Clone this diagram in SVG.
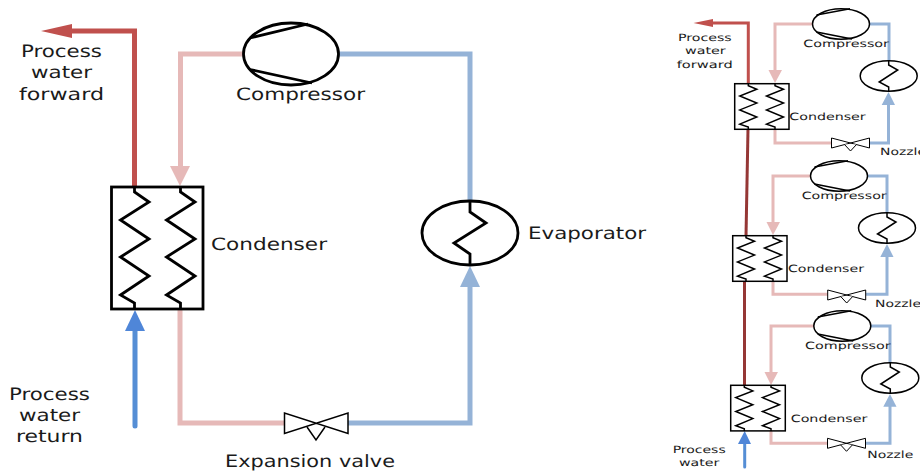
<svg xmlns="http://www.w3.org/2000/svg" width="920" height="473" viewBox="0 0 920 473">
<style>
text{font-family:"DejaVu Sans","Open Sans",sans-serif;fill:#1a1a1a;text-rendering:geometricPrecision}
.big{font-size:17px}
.small{font-size:10px}
.sym{fill:none;stroke:#000;stroke-linejoin:miter}
.b{stroke-width:2.800}
.s{stroke-width:1.500}
.v{fill:#fff;stroke:#000;stroke-width:1.500}
.vs{fill:#fff;stroke:#000;stroke-width:1}
.pipe{fill:none;stroke-linejoin:miter}
.w5{stroke-width:5}
.w3{stroke-width:3}
.red{stroke:#c0504d}
.dark{stroke:#953735}
.pink{stroke:#e6b9b8}
.blue{stroke:#95b3d7}
.water{stroke:#558ed5;stroke-linecap:round}
.fred{fill:#c0504d}
.fpink{fill:#e6b9b8}
.fblue{fill:#95b3d7}
.fwater{fill:#4f86d8}
</style>
<defs>
<path id="bigCoil" d="M0,0V5L14.500,15L-14,33L14.500,52L-14,70L14.500,89L-14,108L0,116V122"/>
<path id="smallCoil" d="M0,0V2L8.500,5.600L-8.500,12.300L8.500,19.400L-8.500,26.200L8.500,33.300L-8.500,40.400L0,43.400V45.600"/>
<g id="smallComp" class="sym s"><ellipse cx="0" cy="0" rx="28.500" ry="15.200"/><path d="M-24.500,-9L9,-15.200M-24.500,8L11,15"/></g>
<g id="smallEvap" class="sym s"><ellipse cx="0" cy="0" rx="28.500" ry="15.200"/><path d="M0,-15.200V-11L9,-6L-9.500,6L0,11V15.200"/></g>
<g id="smallValve" class="vs"><path d="M-19,-5V5L19,-5V5Z"/><path d="M-6,1.500L0,8L6,1.500"/></g>
</defs>

<g id="connectors">
<path class="pipe w5 red" d="M72,31H134.500V187"/>
<path class="fred" d="M41,31L72,24V38Z"/>
<path class="pipe w5 pink" d="M243,54H180.500V166"/>
<path class="fpink" d="M170,166H190L180,186Z"/>
<path class="pipe w5 blue" d="M339,54H470V201"/>
<path class="pipe w5 blue" d="M470,286V423H346"/>
<path class="fblue" d="M470,266L480,287H460Z"/>
<path class="pipe w5 pink" d="M180,309V423H286"/>
<path class="pipe w5 water" d="M135,329V426"/>
<path class="fwater" d="M135,310L145,331H125Z"/>

<path class="pipe w3 red" d="M713,23H748.300V84"/>
<path class="fred" d="M693.500,23L713,19V27Z"/>
<path class="pipe w3 pink" d="M812,24H775V71"/>
<path class="fpink" d="M768.500,70H782L775,83Z"/>
<path class="pipe w3 blue" d="M869,24H889V61"/>
<path class="pipe w3 blue" d="M888.500,104V143H869"/>
<path class="fblue" d="M888.500,92L895,105H881.700Z"/>
<path class="pipe w3 pink" d="M775,129V143H832"/>
<path class="pipe w3 dark" d="M748,129L746,236"/>

<path class="pipe w3 pink" d="M810,176H773V223"/>
<path class="fpink" d="M766.500,222H780L773,235Z"/>
<path class="pipe w3 blue" d="M867,176H887V213"/>
<path class="pipe w3 blue" d="M887,256V294.300H866"/>
<path class="fblue" d="M887,244L893.500,257H880.300Z"/>
<path class="pipe w3 pink" d="M773,281V294.300H828"/>
<path class="pipe w3 dark" d="M744.500,281V385"/>

<path class="pipe w3 pink" d="M814,326H771V373"/>
<path class="fpink" d="M764.500,372H778L771,385Z"/>
<path class="pipe w3 blue" d="M871,326H890V363"/>
<path class="pipe w3 blue" d="M890,406V443.300H866"/>
<path class="fblue" d="M890,394L896.500,406.700H883.300Z"/>
<path class="pipe w3 pink" d="M771,431V443.300H828"/>
<path class="pipe w3 water" d="M744.700,443V467"/>
<path class="fwater" d="M744.700,431L751,444H738Z"/>
</g>

<g id="compressor-main">
<g class="sym b"><ellipse cx="291" cy="54" rx="47.500" ry="31"/><path d="M250,38L308,24M250,69.500L312,83"/></g>
<text class="big" x="236" y="100" textLength="129" lengthAdjust="spacingAndGlyphs">Compressor</text>
</g>
<g id="evaporator-main">
<g class="sym b"><ellipse cx="470" cy="233" rx="48" ry="32"/><path d="M470,201V212L486,223L454,243L470,254V265"/></g>
<text class="big" x="528" y="239" textLength="118" lengthAdjust="spacingAndGlyphs">Evaporator</text>
</g>
<g id="condenser-main">
<rect class="sym b" x="111.500" y="187" width="91.500" height="122"/>
<use href="#bigCoil" class="sym b" x="134.500" y="187"/>
<use href="#bigCoil" class="sym b" x="180.500" y="187"/>
<text class="big" x="211" y="250" textLength="116" lengthAdjust="spacingAndGlyphs">Condenser</text>
</g>
<g id="valve-main">
<path class="v" d="M284.500,413V433.500L348,413V433.500Z"/>
<path class="v" d="M307,427L316,440L325,427"/>
<text class="big" x="225" y="467" textLength="170" lengthAdjust="spacingAndGlyphs">Expansion valve</text>
</g>
<g id="water-forward-label">
<text class="big" x="21" y="57" textLength="81" lengthAdjust="spacingAndGlyphs">Process</text>
<text class="big" x="31" y="78" textLength="61" lengthAdjust="spacingAndGlyphs">water</text>
<text class="big" x="19" y="100" textLength="85" lengthAdjust="spacingAndGlyphs">forward</text>
</g>
<g id="water-return-label">
<text class="big" x="9" y="400" textLength="81" lengthAdjust="spacingAndGlyphs">Process</text>
<text class="big" x="19" y="421" textLength="61" lengthAdjust="spacingAndGlyphs">water</text>
<text class="big" x="16" y="442" textLength="67" lengthAdjust="spacingAndGlyphs">return</text>
</g>

<g id="unit-1">
<use href="#smallComp" x="841" y="24"/>
<use href="#smallEvap" x="888.700" y="76"/>
<rect class="sym s" x="734.700" y="83.700" width="54.300" height="45.600"/>
<use href="#smallCoil" class="sym s" x="748.300" y="83.700"/>
<use href="#smallCoil" class="sym s" x="775" y="83.700"/>
<use href="#smallValve" x="850.500" y="143"/>
<text class="small" x="803.300" y="47" textLength="85.700" lengthAdjust="spacingAndGlyphs">Compressor</text>
<text class="small" x="789.300" y="120" textLength="76.400" lengthAdjust="spacingAndGlyphs">Condenser</text>
<text class="small" x="880" y="155" textLength="46" lengthAdjust="spacingAndGlyphs">Nozzle</text>
<text class="small" x="678" y="40.700" textLength="53.700" lengthAdjust="spacingAndGlyphs">Process</text>
<text class="small" x="685" y="54" textLength="40.700" lengthAdjust="spacingAndGlyphs">water</text>
<text class="small" x="676.700" y="67.700" textLength="56" lengthAdjust="spacingAndGlyphs">forward</text>
</g>
<g id="unit-2">
<use href="#smallComp" x="839" y="176"/>
<use href="#smallEvap" x="887" y="228"/>
<rect class="sym s" x="732.700" y="235.700" width="54.300" height="45.600"/>
<use href="#smallCoil" class="sym s" x="746" y="235.700"/>
<use href="#smallCoil" class="sym s" x="773" y="235.700"/>
<use href="#smallValve" x="846.700" y="295"/>
<text class="small" x="801.700" y="199" textLength="85" lengthAdjust="spacingAndGlyphs">Compressor</text>
<text class="small" x="788" y="272" textLength="76" lengthAdjust="spacingAndGlyphs">Condenser</text>
<text class="small" x="875" y="306.700" textLength="46" lengthAdjust="spacingAndGlyphs">Nozzle</text>
</g>
<g id="unit-3">
<use href="#smallComp" x="842.300" y="326"/>
<use href="#smallEvap" x="890.300" y="378"/>
<rect class="sym s" x="730.700" y="385.300" width="54.600" height="45.600"/>
<use href="#smallCoil" class="sym s" x="744.300" y="385.300"/>
<use href="#smallCoil" class="sym s" x="771" y="385.300"/>
<use href="#smallValve" x="846.500" y="443.300"/>
<text class="small" x="805" y="348.700" textLength="85.700" lengthAdjust="spacingAndGlyphs">Compressor</text>
<text class="small" x="790.700" y="421.700" textLength="76.600" lengthAdjust="spacingAndGlyphs">Condenser</text>
<text class="small" x="867.300" y="457.700" textLength="46" lengthAdjust="spacingAndGlyphs">Nozzle</text>
<text class="small" x="672.700" y="452.700" textLength="53" lengthAdjust="spacingAndGlyphs">Process</text>
<text class="small" x="679" y="465.700" textLength="40.300" lengthAdjust="spacingAndGlyphs">water</text>
</g>
</svg>
